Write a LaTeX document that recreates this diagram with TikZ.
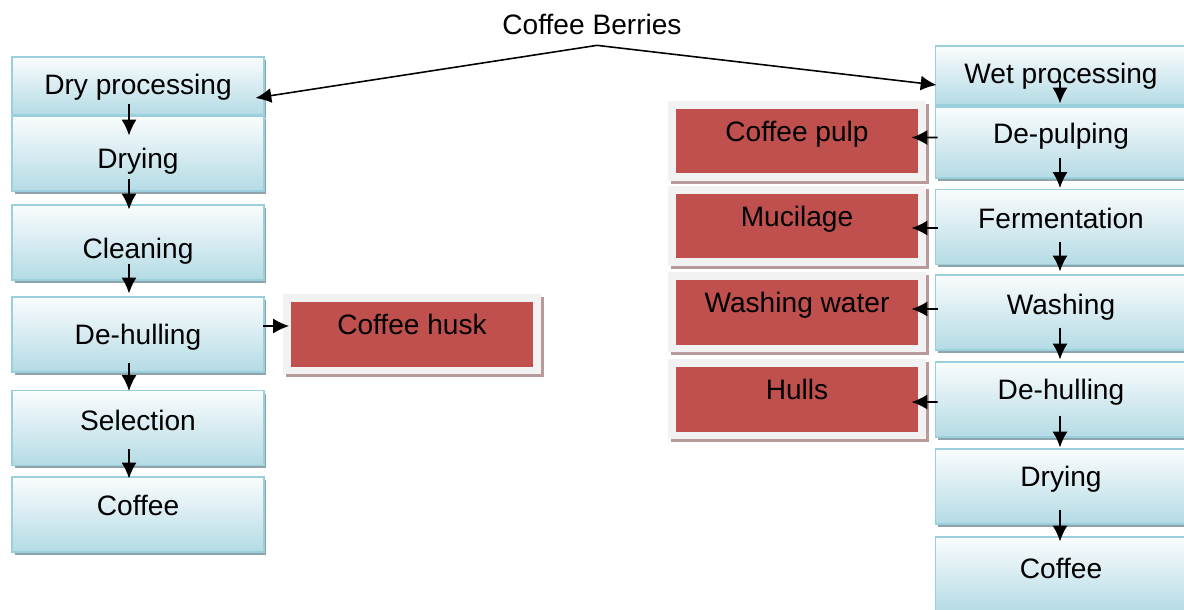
\documentclass[tikz,border=0pt]{standalone}
\usepackage{fontspec}
\setmainfont{Liberation Sans}
\usetikzlibrary{positioning, calc, arrows.meta, shadows}
\definecolor{StepTop}{HTML}{FAFCFD}
\definecolor{StepBottom}{HTML}{B4DBE5}
\definecolor{StepLine}{HTML}{9ACFDE}
\definecolor{StepShadow}{HTML}{8FA3AA}
\definecolor{Waste}{HTML}{C0504D}
\definecolor{WasteFrame}{HTML}{F2F2F2}
\definecolor{WasteShadow}{HTML}{B89A9A}
\tikzset{
    stepbox/.style={rectangle, minimum width=5.04cm, minimum height=1.5cm, top color=StepTop, bottom color=StepBottom, draw=StepLine, line width=0.6pt, font=\fontsize{16}{19}\selectfont, text height=0.42cm, text depth=0.02cm, drop shadow={shadow xshift=0.05cm, shadow yshift=-0.06cm, fill=StepShadow, opacity=1}},
    % testo alzato / abbassato dentro il box
    textup/.style={text depth=#1},
    textdown/.style={text height=#1},
    wastebox/.style={rectangle, minimum width=5.02cm, minimum height=1.46cm, fill=Waste, draw=WasteFrame, line width=0.16cm, font=\fontsize{16}{19}\selectfont, text height=0.4cm, text depth=0.4cm, drop shadow={shadow xshift=0.06cm, shadow yshift=-0.06cm, fill=WasteShadow, draw=WasteShadow, line width=0.16cm, opacity=1}},
    arrow/.style={-{Latex[length=9pt, width=8.5pt]}, line width=0.9pt, color=black},
}

\begin{document}
\begin{tikzpicture}[x=0.02cm, y=-0.02cm]
    % Pagina (coordinate in pixel, y verso il basso)
    \useasboundingbox (0,0) rectangle (1184,609);

    % Sorgente
    \node[font=\fontsize{16}{19}\selectfont, inner sep=0pt, text height=0.42cm, text depth=0.02cm] (berries) at (592,24) {Coffee Berries};

    % Via secca
    \node[stepbox, minimum height=1.16cm, textup=0.1cm] (dry) at (138,86) {Dry processing};
    \node[stepbox, textdown=0.62cm] (dDry) at (138,153.5) {Drying};
    \node[stepbox, textdown=0.66cm] (dClean) at (138,242.5) {Cleaning};
    \node[stepbox] (dHull) at (138,334.5) {De-hulling};
    \node[stepbox, textup=0.34cm] (dSel) at (138,428) {Selection};
    \node[stepbox, textup=0.38cm] (dCof) at (138,514.5) {Coffee};

    % Via umida
    \node[stepbox, minimum height=1.18cm, textup=0.1cm] (wet) at (1061,75.5) {Wet processing};
    \node[stepbox, minimum height=1.42cm, textup=0.38cm] (wPulp) at (1061,142.5) {De-pulping};
    \node[stepbox, textup=0.38cm] (wFerm) at (1061,227) {Fermentation};
    \node[stepbox, textup=0.34cm] (wWash) at (1061,312.5) {Washing};
    \node[stepbox, textup=0.44cm] (wHull) at (1061,399.5) {De-hulling};
    \node[stepbox, textup=0.42cm] (wDry) at (1061,486.5) {Drying};
    \node[stepbox, textup=0.28cm] (wCof) at (1061,574.5) {Coffee};

    % Sottoprodotti
    \node[wastebox] (husk) at (412,334) {Coffee husk};
    \node[wastebox] (pulp) at (797,141) {Coffee pulp};
    \node[wastebox] (muc) at (797,226) {Mucilage};
    \node[wastebox] (water) at (797,312) {Washing water};
    \node[wastebox] (hulls) at (797,399) {Hulls};

    % Biforcazione
    \draw[arrow] ($(berries.south)+(5,10)$) -- ($(dry.east)+(-9,12)$);
    \draw[arrow] ($(berries.south)+(5,10)$) -- ($(wet.west)+(2,9.5)$);

    % Frecce verticali (partenza/arrivo in pixel rispetto ai bordi)
    \foreach \a/\b/\s/\e in {dry/dDry/-12/20, dDry/dClean/-13/5, dClean/dHull/-17/-3, dHull/dSel/-10/1, dSel/dCof/-17/2}
        \draw[arrow] ($(\a.south)+(-9,\s)$) -- ($(\b.north)+(-9,\e)$);
    \foreach \a/\b/\s/\e in {wet/wPulp/-25/-3, wPulp/wFerm/-21/-1, wFerm/wWash/-23/-3, wWash/wHull/-23/-2, wHull/wDry/-22/-1, wDry/wCof/-15/5}
        \draw[arrow] ($(\a.south)+(-1,\s)$) -- ($(\b.north)+(-1,\e)$);

    % Scarti
    \draw[arrow] ($(dHull.east)+(-2,-8.5)$) -- ($(husk.west)+(6.5,-8)$);
    \draw[arrow] ($(wPulp.west)+(3,-5)$) -- ($(pulp.east)+(-15,-3.5)$);
    \draw[arrow] ($(wFerm.west)+(3,1)$) -- ($(muc.east)+(-15,2)$);
    \draw[arrow] ($(wWash.west)+(3,-3.5)$) -- ($(water.east)+(-15,-3)$);
    \draw[arrow] ($(wHull.west)+(3,2.5)$) -- ($(hulls.east)+(-15,3)$);

\end{tikzpicture}
\end{document}
